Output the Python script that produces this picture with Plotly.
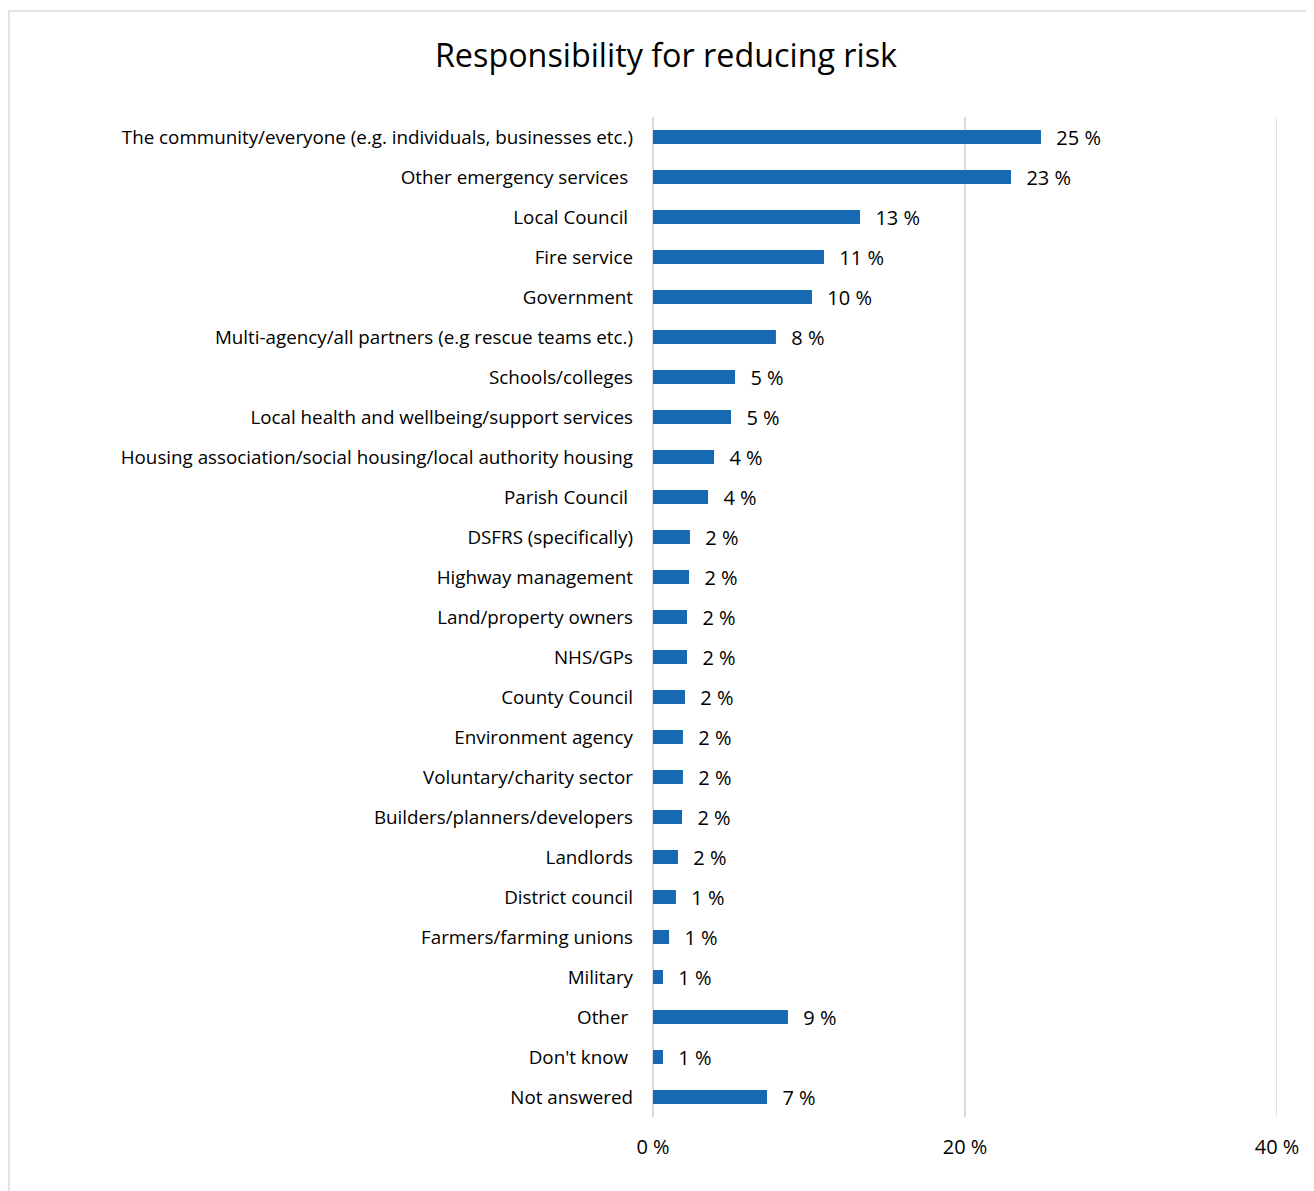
import plotly.graph_objects as go

categories = [
    "The community/everyone (e.g. individuals, businesses etc.)",
    "Other emergency services\u00a0",
    "Local Council\u00a0",
    "Fire service",
    "Government",
    "Multi-agency/all partners (e.g rescue teams etc.)",
    "Schools/colleges",
    "Local health and wellbeing/support services",
    "Housing association/social housing/local authority housing",
    "Parish Council\u00a0",
    "DSFRS (specifically)",
    "Highway management",
    "Land/property owners",
    "NHS/GPs",
    "County Council",
    "Environment agency",
    "Voluntary/charity sector",
    "Builders/planners/developers",
    "Landlords",
    "District council",
    "Farmers/farming unions",
    "Military",
    "Other\u00a0",
    "Don't know\u00a0",
    "Not answered",
]
values = [24.87, 22.95, 13.27, 10.96, 10.19, 7.88, 5.26, 5.0, 3.91, 3.53,
          2.37, 2.31, 2.18, 2.18, 2.05, 1.92, 1.92, 1.86, 1.60, 1.47,
          1.03, 0.64, 8.65, 0.64, 7.31]
x_ticks = [0, 20, 40]
x_tick_labels = ["0 %", "20 %", "40 %"]

FONT = "Open Sans"

# page has an 8px body margin; figure coordinates are offset by (8, 8)
W, H = 1306, 1183
L, R, T, B = 645, 37, 109, 74
PW = W - L - R
PH = H - T - B

fig = go.Figure(go.Bar(
    y=categories,
    x=values,
    orientation="h",
    marker=dict(color="#1769B3", line=dict(width=0)),
    texttemplate="\u00a0\u00a0\u200a%{x:.0f}\u00a0%",
    textposition="outside",
    constraintext="none",
    textfont=dict(family=FONT, size=20, color="#000000"),
    cliponaxis=False,
    hoverinfo="x+y",
))

fig.update_layout(
    width=W,
    height=H,
    paper_bgcolor="white",
    plot_bgcolor="white",
    margin=dict(l=L, r=R, t=T, b=B),
    bargap=0.65,
    showlegend=False,
    title=dict(
        text="Responsibility for reducing risk",
        x=658 / W, xref="container", xanchor="center",
        y=1 - 48 / H, yref="container", yanchor="middle",
        font=dict(family=FONT, size=32.3, color="#000000"),
    ),
    font=dict(family=FONT, color="#000000"),
    xaxis=dict(
        range=[0, 40],
        tickvals=x_ticks,
        ticktext=x_tick_labels,
        showgrid=True,
        gridcolor="#d9d9d9",
        gridwidth=1.5,
        zeroline=True,
        zerolinecolor="#d9d9d9",
        zerolinewidth=1.5,
        showline=False,
        ticks="",
        ticklabelstandoff=16,
        tickfont=dict(family=FONT, size=20, color="#000000"),
        fixedrange=True,
    ),
    yaxis=dict(
        categoryorder="array",
        categoryarray=categories,
        autorange="reversed",
        showgrid=False,
        zeroline=False,
        showline=False,
        ticks="",
        ticklabelstandoff=19,
        tickfont=dict(family=FONT, size=18.8, color="#000000"),
        fixedrange=True,
    ),
    shapes=[
        dict(
            type="rect", xref="paper", yref="paper",
            x0=(1 - L) / PW, x1=(W + 20 - L) / PW,
            y0=(T + PH - (H + 20)) / PH, y1=(T + PH - 3) / PH,
            line=dict(color="#d9d9d9", width=1.5),
            fillcolor="rgba(0,0,0,0)",
            layer="below",
        ),
        # gridline at the right edge of the axis range (40 %)
        dict(
            type="line", xref="x", yref="paper",
            x0=x_ticks[-1], x1=x_ticks[-1], y0=0, y1=1,
            line=dict(color="#d9d9d9", width=1.5),
            layer="below",
        ),
    ],
)

fig.write_html("out.html")
